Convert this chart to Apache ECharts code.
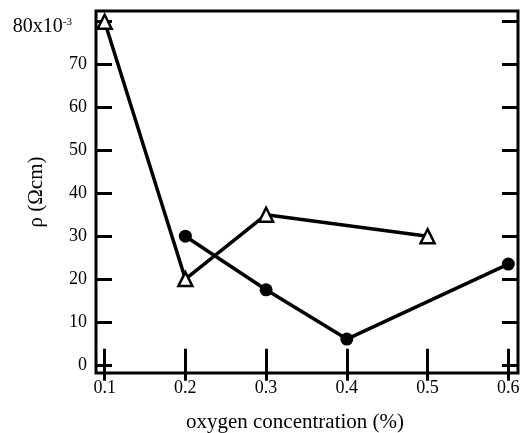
<!DOCTYPE html>
<html><head><meta charset="utf-8">
<script src="https://cdn.jsdelivr.net/npm/echarts@6/dist/echarts.min.js"></script>
<style>html,body{margin:0;padding:0;background:#fff}#c{width:522px;height:433px}</style>
</head><body><div id="c"></div>
<script>
const xTicks = [0.1, 0.2, 0.3, 0.4, 0.5, 0.6];
const yTicks = [0, 10, 20, 30, 40, 50, 60, 70, 80];
const triX = [0.1, 0.2, 0.3, 0.5];
const triY = [80, 20, 35, 30];
const dotX = [0.2, 0.3, 0.4, 0.6];
const dotY = [30, 17.5, 6, 23.5];

const font = 'Liberation Serif';
const chart = echarts.init(document.getElementById('c'));
const tick = {show: true, inside: true, length: 16, lineStyle: {color: '#000', width: 3}};
chart.setOption({
  animation: false,
  grid: {left: 96, right: 4, top: 11, bottom: 60, show: true, borderColor: '#000', borderWidth: 3,
         backgroundColor: 'transparent', containLabel: false, outerBoundsMode: 'none'},
  xAxis: [
    {type: 'value', position: 'bottom', min: 0.0893, max: 0.612,
     axisLine: {show: false}, splitLine: {show: false},
     axisTick: Object.assign({customValues: xTicks}, tick),
     axisLabel: {customValues: xTicks, color: '#000', fontFamily: font, fontSize: 18, margin: 6},
     name: 'oxygen concentration (%)', nameLocation: 'middle', nameGap: 39, nameMoveOverlap: false,
     nameTextStyle: {color: '#000', fontFamily: font, fontSize: 21, padding: [0, 24, 0, 0]}},
    {type: 'value', position: 'top', min: 0.0893, max: 0.612,
     axisLine: {show: false}, splitLine: {show: false},
     axisTick: Object.assign({customValues: xTicks}, tick),
     axisLabel: {show: false}}
  ],
  yAxis: [
    {type: 'value', position: 'left', min: -1.9, max: 82.5,
     axisLine: {show: false}, splitLine: {show: false},
     axisTick: Object.assign({customValues: yTicks}, tick),
     axisLabel: {customValues: yTicks, color: '#000', fontFamily: font, fontSize: 18, margin: 9,
       formatter: v => v === 80 ? '{a|80x10}{s|-3}' : String(v),
       rich: {a: {fontFamily: font, fontSize: 20, color: '#000', padding: [10, 0, 0, 0], verticalAlign: 'bottom'},
              s: {fontFamily: font, fontSize: 11, color: '#000', verticalAlign: 'top', padding: [10, 15, 0, 0]}}},
     name: 'ρ (Ωcm)', nameLocation: 'middle', nameGap: 49, nameRotate: 90, nameMoveOverlap: false,
     nameTextStyle: {color: '#000', fontFamily: font, fontSize: 21}},
    {type: 'value', position: 'right', min: -1.9, max: 82.5,
     axisLine: {show: false}, splitLine: {show: false},
     axisTick: Object.assign({customValues: yTicks}, tick),
     axisLabel: {show: false}}
  ],
  series: [
    {type: 'line', data: triX.map((x, i) => [x, triY[i]]), symbol: 'triangle', symbolSize: 14,
     lineStyle: {color: '#000', width: 3.5}, itemStyle: {color: '#fff', borderColor: '#000', borderWidth: 2.5}, z: 3},
    {type: 'line', data: dotX.map((x, i) => [x, dotY[i]]), symbol: 'circle', symbolSize: 13,
     lineStyle: {color: '#000', width: 3.5}, itemStyle: {color: '#000', borderColor: '#000', borderWidth: 0}, z: 2}
  ]
});
</script></body></html>
